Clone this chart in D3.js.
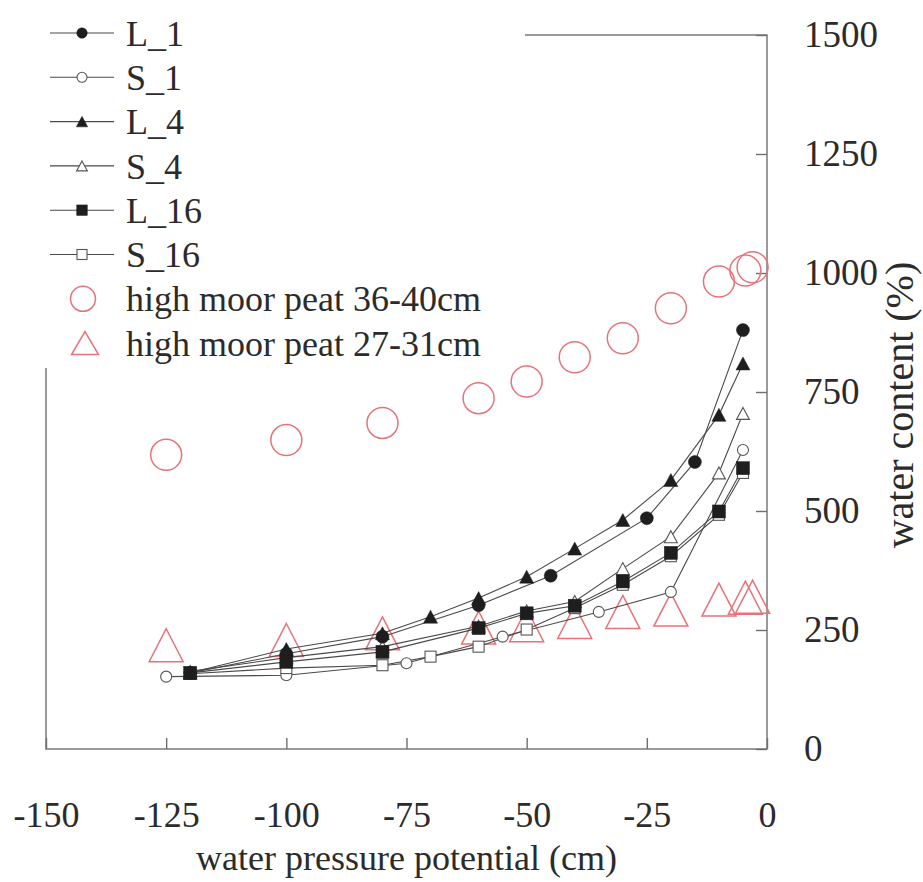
<!DOCTYPE html>
<html><head><meta charset="utf-8">
<script src="https://cdn.jsdelivr.net/npm/d3@7"></script>
</head><body style="margin:0;background:#fff">
<svg id="c" width="923" height="882"></svg>
<script>
// ---- data ----
const xTicks = [-150,-125,-100,-75,-50,-25,0];
const yTicks = [0,250,500,750,1000,1250,1500];
const seriesNames = ["L_1","S_1","L_4","S_4","L_16","S_16","high moor peat 36-40cm","high moor peat 27-31cm"];

const pL1  = [-120,-100,-80,-60,-45,-25,-15,-5];
const vL1  = [160,200,236,302,364,485,603,880];
const pS1  = [-125,-100,-75,-55,-35,-20,-5];
const vS1  = [152,155,180,236,288,330,628];
const pL4  = [-120,-100,-80,-70,-60,-50,-40,-30,-20,-10,-5];
const vL4  = [160,210,243,278,317,362,421,481,565,702,810];
const pS4  = [-120,-100,-80,-60,-50,-40,-30,-20,-10,-5];
const vS4  = [163,192,215,258,290,310,379,446,580,705];
const pL16 = [-120,-100,-80,-60,-50,-40,-30,-20,-10,-5];
const vL16 = [160,183,204,254,285,301,352,412,499,590];
const pS16 = [-120,-100,-80,-70,-60,-50,-40,-30,-20,-10,-5];
const vS16 = [158,170,176,194,215,251,296,345,405,492,580];
const pMoor = [-125,-100,-80,-60,-50,-40,-30,-20,-10,-4.5,-3];
const vMoor3640 = [618,649,685,737,772,823,863,926,982,1005,1012];
const vMoor2731 = [218,229,243,255,260,267,288,293,314,318,320];

// ---- layout ----
const FONT = "Liberation Serif";
const TXT = "#2b2b2b";
const svg = d3.select("#c");
const x = d3.scaleLinear().domain([-150,0]).range([46,767]);
const y = d3.scaleLinear().domain([0,1500]).range([749,35]);
const frameColor = "#6f6f6f";
const red = "#e6737a";
const ink = "#1e1e1e";

// frame
svg.append("rect").attr("x",x(-150)).attr("y",y(1500))
  .attr("width",x(0)-x(-150)).attr("height",y(0)-y(1500))
  .attr("fill","none").attr("stroke",frameColor).attr("stroke-width",1.4);

// axes
const xAxis = d3.axisBottom(x).tickValues(xTicks).tickSize(-11).tickPadding(52).tickFormat(d=>String(d));
const gx = svg.append("g").attr("transform",`translate(0,${y(0)})`).call(xAxis);
gx.attr("font-family",FONT).attr("font-size",36);
gx.select(".domain").remove();
gx.selectAll(".tick line").attr("stroke",frameColor).attr("stroke-width",1.4);
gx.selectAll(".tick text").attr("fill",TXT).attr("font-family",FONT).attr("font-size",36);

const yAxis = d3.axisRight(y).tickValues(yTicks).tickSize(-11).tickPadding(37).tickFormat(d=>String(d));
const gy = svg.append("g").attr("transform",`translate(${x(0)},0)`).call(yAxis);
gy.attr("font-family",FONT).attr("font-size",37);
gy.select(".domain").remove();
gy.selectAll(".tick line").attr("stroke",frameColor).attr("stroke-width",1.4);
gy.selectAll(".tick text").attr("fill",TXT).attr("font-family",FONT).attr("font-size",37);

// axis titles
svg.append("text").attr("x",(x(-150)+x(0))/2).attr("y",870).attr("text-anchor","middle")
  .attr("font-family",FONT).attr("font-size",36).attr("fill",TXT).text("water pressure potential (cm)");
svg.append("text").attr("transform","translate(913,405) rotate(-90)").attr("text-anchor","middle")
  .attr("font-family",FONT).attr("font-size",40).attr("fill",TXT).text("water content (%)");

// legend background (covers frame top-left)
svg.append("rect").attr("x",0).attr("y",0).attr("width",525).attr("height",368).attr("fill","#fff");

// marker helper
function tri(w,h){return `M0,${-h/2}L${w/2},${h/2}L${-w/2},${h/2}Z`;}
function marker(g, shape, filled, s, color, sw){
  let el;
  if(shape==="circle") el = g.append("circle").attr("r",s/2);
  else if(shape==="square") el = g.append("rect").attr("x",-s/2).attr("y",-s/2).attr("width",s).attr("height",s);
  else el = g.append("path").attr("d",tri(s*1.08,s));
  el.attr("fill",filled?color:"#fff").attr("stroke",color).attr("stroke-width",sw);
  return el;
}

const blackSeries = [
  {name:seriesNames[0], p:pL1,  v:vL1,  shape:"circle",  filled:true,  size:13},
  {name:seriesNames[1], p:pS1,  v:vS1,  shape:"circle",  filled:false, size:11},
  {name:seriesNames[2], p:pL4,  v:vL4,  shape:"triangle",filled:true,  size:13},
  {name:seriesNames[3], p:pS4,  v:vS4,  shape:"triangle",filled:false, size:12},
  {name:seriesNames[4], p:pL16, v:vL16, shape:"square",  filled:true,  size:13},
  {name:seriesNames[5], p:pS16, v:vS16, shape:"square",  filled:false, size:11}
];

const line = d3.line().x(d=>x(d[0])).y(d=>y(d[1]));
const plot = svg.append("g");

// red series (drawn first, behind)
pMoor.forEach((p,i)=>{
  const g = plot.append("g").attr("transform",`translate(${x(p)},${y(vMoor3640[i])})`);
  marker(g,"circle",false,31,red,1.5).attr("fill","none");
});
pMoor.forEach((p,i)=>{
  const g = plot.append("g").attr("transform",`translate(${x(p)},${y(vMoor2731[i])})`);
  g.append("path").attr("d",tri(34,33)).attr("fill","none").attr("stroke",red).attr("stroke-width",1.5);
});

// black lines
blackSeries.forEach(s=>{
  plot.append("path").datum(s.p.map((p,i)=>[p,s.v[i]])).attr("d",line)
    .attr("fill","none").attr("stroke","#4a4a4a").attr("stroke-width",1.1);
});
// black markers (open first, filled on top)
[...blackSeries.filter(s=>!s.filled), ...blackSeries.filter(s=>s.filled)].forEach(s=>{
  s.p.forEach((p,i)=>{
    const g = plot.append("g").attr("transform",`translate(${x(p)},${y(s.v[i])})`);
    marker(g,s.shape,s.filled,s.size,s.filled?ink:"#555",s.filled?0.5:1.1);
  });
});

// legend
const lg = svg.append("g");
const rowY0 = 33, rowDy = 44.3;
seriesNames.forEach((name,i)=>{
  const cy = rowY0 + i*rowDy;
  const g = lg.append("g").attr("transform",`translate(0,${cy})`);
  if(i<6){
    const s = blackSeries[i];
    g.append("line").attr("x1",50).attr("x2",114).attr("y1",0).attr("y2",0).attr("stroke","#4a4a4a").attr("stroke-width",1.1);
    const m = g.append("g").attr("transform","translate(82,0)");
    marker(m,s.shape,s.filled,s.filled?10.5:10,s.filled?ink:"#555",s.filled?0.5:1.1);
  } else if(i===6){
    g.append("circle").attr("cx",83).attr("cy",0).attr("r",12.5).attr("fill","none").attr("stroke",red).attr("stroke-width",1.5);
  } else {
    g.append("path").attr("transform","translate(85,0)").attr("d",tri(27,23)).attr("fill","none").attr("stroke",red).attr("stroke-width",1.5);
  }
  g.append("text").attr("x",126).attr("y",0).attr("dy","0.35em")
    .attr("font-family",FONT).attr("font-size",36).attr("fill",TXT).text(name);
});
</script>
</body></html>
